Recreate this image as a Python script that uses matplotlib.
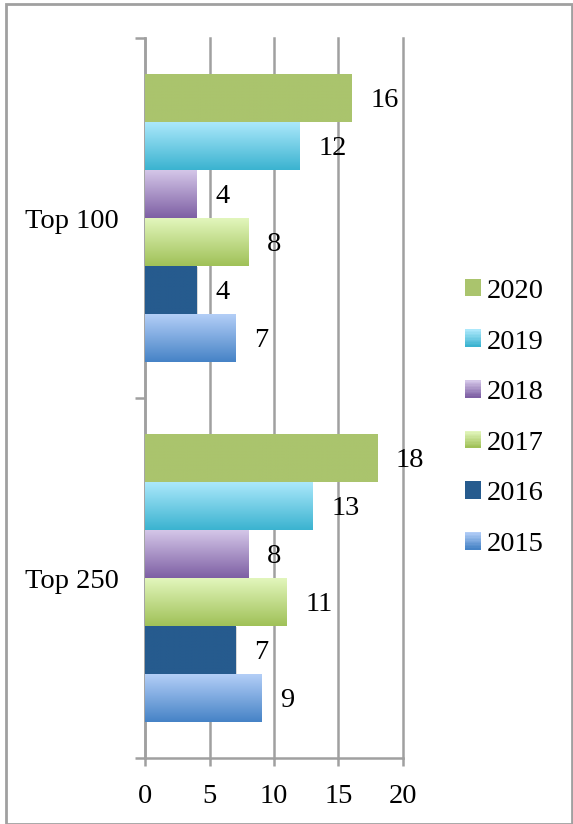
import numpy as np
import matplotlib
matplotlib.use("Agg")
import matplotlib.pyplot as plt
from matplotlib.patches import Rectangle
from matplotlib.legend_handler import HandlerBase
from matplotlib.colors import to_rgb

plt.rcParams['font.family'] = ['Liberation Serif', 'DejaVu Serif']

categories = ["Top 250", "Top 100"]
series = ["2015", "2016", "2017", "2018", "2019", "2020"]
values = {
    "2015": [9, 7],
    "2016": [7, 4],
    "2017": [11, 8],
    "2018": [8, 4],
    "2019": [13, 12],
    "2020": [18, 16],
}
# top colour, bottom colour of the vertical gradient
colors = {
    "2015": ("#B3CEF7", "#4683C6"),
    "2016": ("#265B8E", "#265B8E"),
    "2017": ("#E2F6BC", "#A0C158"),
    "2018": ("#D4C6E8", "#7E60A4"),
    "2019": ("#ABE8FB", "#3BB3D0"),
    "2020": ("#AAC46D", "#AAC46D"),
}
xticks = [0, 5, 10, 15, 20]

FS = 20.5
fig = plt.figure(figsize=(5.73, 8.24), dpi=100)
ax = fig.add_axes([145/573, 1-758/824, (403-145)/573, 720/824])

n = len(series)
group_h = 0.8
bh = group_h / n


def grad_img(c_top, c_bot, N=64):
    t = np.linspace(0, 1, N)[:, None]
    a = np.array(to_rgb(c_top)); b = np.array(to_rgb(c_bot))
    img = (1 - t) * a + t * b  # row 0 = top
    return img[:, None, :]

ypos = np.arange(len(categories)) + 0.5
for i, s in enumerate(series):
    offs = -group_h / 2 + bh * (i + 0.5)
    ys = ypos + offs
    bars = ax.barh(ys, values[s], height=bh, color='none', edgecolor='none', zorder=3)
    ct, cb = colors[s]
    for rect, v, y in zip(bars, values[s], ys):
        x0, y0 = rect.get_x(), rect.get_y()
        w, h = rect.get_width(), rect.get_height()
        if s == "2016":
            sh = Rectangle((x0 + 0.12, y0 - 0.004), w, h, facecolor='#d8d8d8',
                           edgecolor='none', zorder=2.5)
            ax.add_patch(sh)
        im = ax.imshow(grad_img(ct, cb), extent=(x0, x0 + w, y0, y0 + h),
                       origin='upper', aspect='auto', zorder=3, interpolation='bilinear')
        im.set_clip_path(rect)
        ax.annotate(str(v), (v, y), xytext=(13.5, -2), textcoords='offset points',
                    va='center', ha='left', fontsize=FS, color='black')

ax.set_xlim(0, 20)
ax.set_ylim(0, 2)
ax.set_xticks(xticks)
ax.set_xticklabels([str(x) for x in xticks])
ax.set_yticks([0, 1, 2])
ax.set_yticklabels([])
ax.set_yticks(ypos, minor=True)
ax.set_yticklabels(categories, minor=True)
ax.tick_params(axis='y', which='minor', length=0, pad=19, labelsize=FS)
ax.tick_params(axis='y', which='major', length=7, width=1.8, color='#A0A0A0')
ax.tick_params(axis='x', length=6, width=1.8, color='#A0A0A0', pad=13, labelsize=FS)
ax.grid(axis='x', color='#A0A0A0', linewidth=1.8, zorder=1)
for gl in ax.get_xgridlines():
    gl.set_clip_on(False)
ax.set_axisbelow(True)
for sp in ['top', 'right']:
    ax.spines[sp].set_visible(False)
for sp in ['left', 'bottom']:
    ax.spines[sp].set_color('#A0A0A0')
    ax.spines[sp].set_linewidth(1.8)


class GradHandler(HandlerBase):
    def __init__(self, ct, cb):
        super().__init__()
        self.ct, self.cb = ct, cb

    def create_artists(self, legend, orig_handle, xdescent, ydescent, width, height, fontsize, trans):
        arts = []
        k = 12
        a = np.array(to_rgb(self.ct)); b = np.array(to_rgb(self.cb))
        for j in range(k):
            t = j / (k - 1)
            c = (1 - t) * a + t * b
            y = -ydescent + height * (1 - (j + 1) / k)
            r = Rectangle((-xdescent, y), width, height / k + 0.3, facecolor=c,
                          edgecolor='none', transform=trans)
            arts.append(r)
        return arts


handles = []
hmap = {}
for s in reversed(series):
    h = Rectangle((0, 0), 1, 1)
    handles.append(h)
    hmap[h] = GradHandler(*colors[s])

leg = fig.legend(handles, list(reversed(series)), handler_map=hmap,
                 loc='center left', bbox_to_anchor=(465/573, 1-418/824),
                 frameon=False, fontsize=FS, handlelength=0.55, handleheight=0.55,
                 handletextpad=0.2, labelspacing=0.9, borderpad=0, borderaxespad=0)

fig.patches.append(Rectangle((6/573, 0), 566/573, 1-4/824, transform=fig.transFigure,
                             fill=False, edgecolor='#A0A0A0', linewidth=2))

fig.savefig("out.png", dpi=100)
